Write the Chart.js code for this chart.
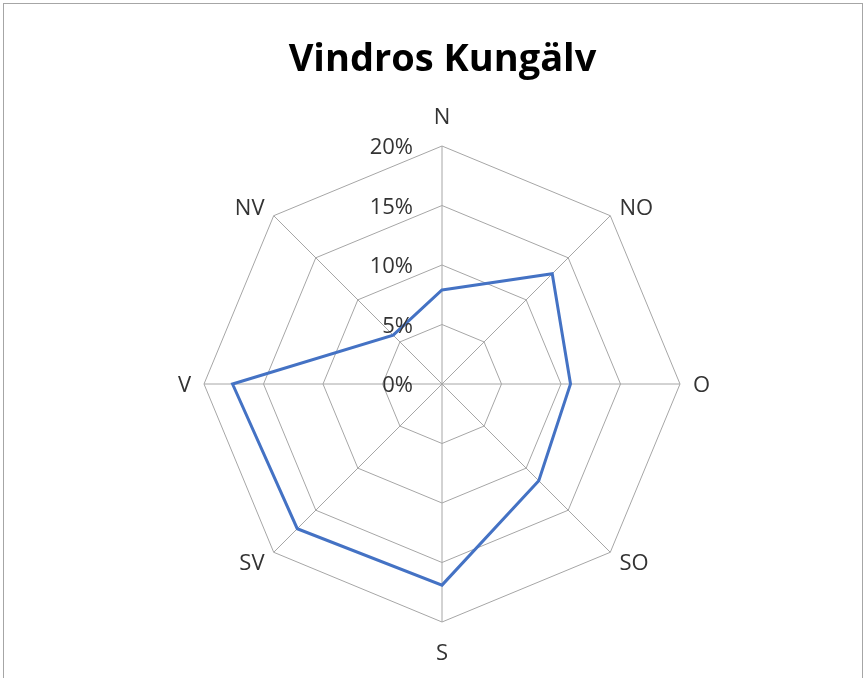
<!DOCTYPE html>
<html>
<head>
<meta charset="utf-8">
<script src="https://cdn.jsdelivr.net/npm/chart.js@4"></script>
<style>
  html, body { margin: 0; padding: 0; background: #fff; overflow: hidden; }
  #wrap { position: relative; width: 867px; height: 678px; }
  #frame { position: absolute; left: 3px; top: 3px; width: 860px; height: 700px; border: 1px solid #a6a6a6; box-sizing: border-box; }
  canvas { position: absolute; left: 0; top: 0; }
</style>
</head>
<body>
<div id="wrap"><div id="frame"></div><canvas id="c" width="867" height="678"></canvas></div>
<script>
// vindriktningar och andel (%) per riktning
const directions = ['N', 'NO', 'O', 'SO', 'S', 'SV', 'V', 'NV'];
const share = [7.9, 13.1, 10.8, 11.5, 16.9, 17.2, 17.6, 5.8];
const tickValues = [0, 5, 10, 15, 20];

const LABEL_COLOR = '#333333';
const GRID_COLOR = '#a6a6a6';
const FONT = "'Open Sans', 'Noto Sans', sans-serif";

// ritar procentetiketter till vänster om N-axeln och riktningsnamnen
const roseLabels = {
  id: 'roseLabels',
  afterDraw(chart) {
    const s = chart.scales.r;
    const ctx = chart.ctx;
    ctx.save();
    ctx.font = `22px ${FONT}`;
    ctx.fillStyle = LABEL_COLOR;
    ctx.textAlign = 'right';
    ctx.textBaseline = 'middle';
    tickValues.forEach((v) => {
      const d = s.getDistanceFromCenterForValue(v);
      ctx.fillText(v + '%', s.xCenter - 29, s.yCenter - d + 2);
    });
    directions.forEach((name, i) => {
      const probe = s.getPointPosition(i, 100);
      const dx = probe.x - s.xCenter;
      const centered = Math.abs(dx) < 10;
      const p = s.getPointPosition(i, s.drawingArea + (centered ? 30 : 13));
      ctx.textAlign = centered ? 'center' : (dx > 0 ? 'left' : 'right');
      ctx.fillText(name, p.x, p.y + 2);
    });
    ctx.restore();
  },
};

new Chart(document.getElementById('c'), {
  type: 'radar',
  data: {
    labels: directions,
    datasets: [{
      label: 'Andel',
      data: share,
      borderColor: '#4472C4',
      borderWidth: 3,
      pointRadius: 0,
      fill: false,
      tension: 0,
    }],
  },
  options: {
    responsive: false,
    animation: false,
    devicePixelRatio: 1,
    layout: { padding: { left: 204, right: 186, top: 37, bottom: 55 } },
    plugins: {
      legend: { display: false },
      tooltip: { enabled: false },
      title: {
        display: true,
        text: 'Vindros Kungälv',
        color: '#000',
        font: { family: FONT, size: 38, weight: 'bold', lineHeight: 1.2 },
        padding: { top: 0, bottom: 64 },
      },
    },
    scales: {
      r: {
        min: 0,
        max: 20,
        ticks: { stepSize: 5, display: false },
        pointLabels: { display: false },
        grid: { color: GRID_COLOR, lineWidth: 1, circular: false },
        angleLines: { color: GRID_COLOR, lineWidth: 1 },
      },
    },
  },
  plugins: [roseLabels],
});
</script>
</body>
</html>
